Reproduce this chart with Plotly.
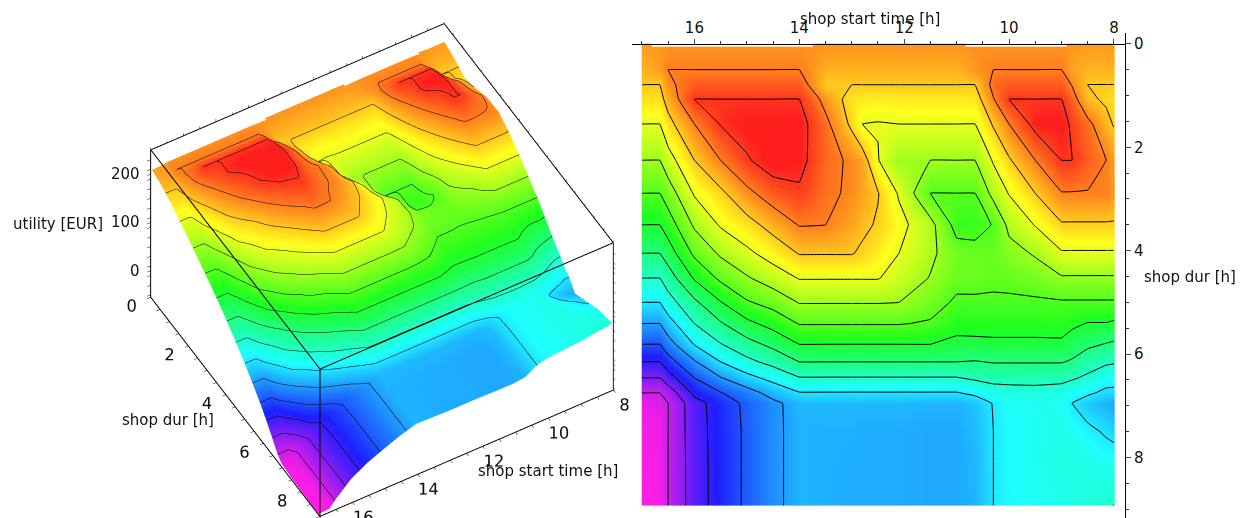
import plotly.graph_objects as go
import numpy as np

N = None
start_time_h = [17, 16.99, 16.66, 16.5, 16, 15.5, 15, 14.5, 14, 13.5, 13, 12.8, 12.5, 12.1, 11.5, 11, 10.65, 10.3, 10, 9.5, 9, 8.8, 8.5, 8.15, 8.01, 8]
shop_dur_h = [0, 0.01, 0.07, 0.5, 0.79, 1.07, 1.55, 2.25, 2.89, 3.5, 4.05, 4.53, 5, 5.41, 5.81, 6.15, 6.46, 6.75, 6.95, 7.5, 8.2, 8.92, 8.93]

u170 = [212,212,212,206,200,194,180,160,140,120,100,80,60,40,20,0,-20,-40,-48,-52,-53,-54,-54]
u1666 = [N,N,213,212,200,194,180,160,140,120,100,80,60,40,20,0,-20,-40,-46,-50,-51,-52,-52]
u165 = [N,N,215,220,216,207,194,172,150,130,110,90,72,52,32,12,-8,-32,-40,-40,-40,-40,-40]
u160 = [N,N,215,220,230,240,220,200,182,163,144,122,96,80,61,38,20,5,-8,-9,-10,-10,-10]
u155 = [N,N,215,220,230,240,241,220,196,182,163,144,119,98,79,60,39,19,10,9,9,9,9]
u150 = [N,N,215,220,230,240,248,238,215,193,176,158,138,115,93,75,54,32,24,23,23,23,23]
u145 = [N,N,215,220,230,240,248,250,230,207,188,170,147,127,105,86,66,47,36,36,36,36,36]
u140 = [N,N,215,220,230,240,247,246,237,221,201,181,161,141,120,100,79,59,47,46,46,46,46]
u135 = [214,214,214,207,200,214,225,226,224,220,201,181,161,141,120,100,79,59,47,45,45,45,45]
u130 = [214,214,214,206,200,192,196,217,217,210,201,181,161,141,120,100,79,59,47,45,44,44,44]
u128 = [214,214,214,206,200,191,180,210,210,204,197,181,161,141,120,100,79,59,47,44,44,44,44]
u125 = [214,214,214,206,200,190,179,181,201,198,190,181,161,141,120,100,79,59,47,44,44,44,44]
u121 = [214,214,214,206,200,191,180,160,178,186,180,172,160,141,120,100,79,59,47,44,44,44,44]
u115 = [214,214,214,206,200,191,180,160,139.9,166,164,159,148,138,120,100,79,59,46,43,43,43,43]
u110 = [214,214,214,206,200,191,180,160,139.9,133,148,146,137,127,115,100,79,59,46,43,43,43,43]
u1065 = [N,N,215,214,200,191,180,160,139.9,133,146,146,137,128,115,99,83,64,50,48,47,46,46]
u103 = [N,N,215,220,225,219,202,182,166,141,145,144,137,128,116,101,86,71,61,60,60,60,60]
u100 = [N,N,215,220,230,240,220,198,181,165,153,145,137,128,116,101,86,73,67,66,66,65,65]
u95 = [N,N,215,220,230,240,246,220,200,181,162,150,137,128,116,101,86,74,70,69,69,68,68]
u90 = [N,N,215,220,230,240,247,240,219,198,178,158,138,129,116,101,85,72,70,72,73,70,70]
u88 = [214,214,214,210,219,228,237,240,219,198,178,158,138,124,110,98,82,68,60,70,74,72,72]
u85 = [212,212,212,206,199.9,204,225,229,219,198,178,158,138,119,104,88,77,63,51,64,73,75,75]
u815 = [212,212,212,206,199.9,197,206,220,219,198,178,158,138,119,99,83,68,56,46,58,70,77,77]
u80 = [212,212,212,206,199.9,194,199,212,214,198,178,158,138,117,97,82,67,56,42,55,72,80,80]

columns = [u170,u170,u1666,u165,u160,u155,u150,u145,u140,u135,u130,u128,u125,u121,u115,u110,u1065,u103,u100,u95,u90,u88,u85,u815,u80,u80]
utility = np.array(columns, dtype=float).T

x_ticks = [8, 10, 12, 14, 16]
y_ticks = [0, 2, 4, 6, 8]
z_ticks = [0, 100, 200]
x_tick_all = [8 + 0.5*i for i in range(19)]
y_tick_all = [0.5*i for i in range(19)]
z_tick_all = [-50 + 20*i for i in range(15)]
x_range = [8, 17]
y_range = [0, 9]
z_range = [-55, 250]
# front box edges sit a hair inside the ranges, so the scene does not clip them
box_x = [8.01, 16.99]
box_y = [0.01, 8.99]
box_z = [-54.5, 249.5]

rainbow = [[0.0,"#ff1ee6"],[0.2,"#1e1eff"],[0.4,"#1effff"],[0.6,"#1eff1e"],[0.8,"#ffff1e"],[1.0,"#ff1e1e"]]
FONT = "DejaVu Sans"
FS = 15
zmin, zmax = -54, 246
W, H = 1237, 510  # page body margin of 8 px shifts everything

fig = go.Figure()
fig.add_trace(go.Surface(
    x=start_time_h, y=shop_dur_h, z=utility, colorscale=rainbow, cmin=zmin, cmax=zmax,
    showscale=False, hoverinfo="skip",
    lighting=dict(ambient=1, diffuse=0, specular=0, roughness=1, fresnel=0),
    contours=dict(z=dict(show=True, start=-40.01, end=240, size=20, color="black", width=3),
                  x=dict(show=False), y=dict(show=False)),
))
fig.add_trace(go.Scatter3d(
    x=[box_x[0], box_x[1], box_x[1], None, box_x[1], box_x[1]],
    y=[box_y[1], box_y[1], box_y[0], None, box_y[1], box_y[1]],
    z=[box_z[1], box_z[1], box_z[1], None, box_z[1], box_z[0]],
    mode="lines", line=dict(color="black", width=2), hoverinfo="skip", showlegend=False,
))
fig.add_trace(go.Heatmap(
    x=start_time_h, y=shop_dur_h, z=utility, colorscale=rainbow, zmin=zmin, zmax=zmax,
    zsmooth="best", showscale=False, xaxis="x", yaxis="y", hoverinfo="skip",
))
fig.add_trace(go.Contour(
    x=start_time_h, y=shop_dur_h, z=utility, showscale=False, xaxis="x", yaxis="y",
    contours=dict(coloring="none", start=-40.01, end=240, size=20),
    line=dict(color="black", width=1, smoothing=0.15), hoverinfo="skip",
))

def axis3d(vals, labels, rng):
    return dict(range=rng, tickmode="array", tickvals=vals, ticktext=labels, tickangle=0,
                showgrid=False, showbackground=False, zeroline=False, showspikes=False,
                showline=True, mirror="all", linecolor="black", linewidth=2,
                ticks="outside", ticklen=4, tickcolor="black",
                tickfont=dict(family=FONT, size=14, color="#111"), title=dict(text=""))

def lab(vals, major):
    return [str(int(v)) if v in major else "" for v in vals]

fig.update_layout(
    width=W, height=H, autosize=False, paper_bgcolor="white", plot_bgcolor="white",
    margin=dict(l=0, r=0, t=0, b=0), showlegend=False,
    xaxis=dict(domain=[(632-8)/W, (1125-8)/W], range=[17.19, 7.79], side="top",
               anchor="free", position=(518-44)/H, tickvals=x_ticks, ticks="outside",
               ticklen=5, showgrid=False, zeroline=False, showline=True, linecolor="black",
               linewidth=1, tickfont=dict(family=FONT, size=FS, color="#111"),
               minor=dict(dtick=0.5, ticks="outside", ticklen=3, tickcolor="#333")),
    yaxis=dict(domain=[0, (518-33)/H], range=[9.17, -0.21], side="right", anchor="x",
               tickvals=y_ticks, ticks="outside", ticklen=5, showgrid=False, zeroline=False,
               showline=True, linecolor="black", linewidth=1,
               tickfont=dict(family=FONT, size=FS, color="#111"),
               minor=dict(dtick=0.5, ticks="outside", ticklen=3, tickcolor="#333")),
    scene=dict(
        domain=dict(x=[94/W, 654/W], y=[0, 496/H]),
        aspectmode="manual", aspectratio=dict(x=1.366, y=1.366, z=0.893),
        camera=dict(projection=dict(type="orthographic"),
                    eye=dict(x=0.332*5, y=0.576*5, z=0.747*5),
                    up=dict(x=0, y=0, z=1), center=dict(x=0, y=0, z=0)),
        xaxis=axis3d(x_tick_all, lab(x_tick_all, x_ticks), x_range),
        yaxis=axis3d(y_tick_all, lab(y_tick_all, y_ticks), y_range),
        zaxis=axis3d(z_tick_all + z_ticks, [""]*(len(z_tick_all)+len(z_ticks)), z_range),
        annotations=[dict(x=x_range[1], y=y_range[0], z=v, text=str(v), showarrow=False,
                          xanchor="right", yanchor="middle", xshift=-9, yshift=0,
                          font=dict(family=FONT, size=FS, color="#111")) for v in z_ticks],
    ),
)

def note(text, px, py):
    fig.add_annotation(text=text, x=(px-8)/W, y=(518-py)/H, xref="paper", yref="paper",
                       showarrow=False, xanchor="center", yanchor="middle",
                       font=dict(family=FONT, size=FS, color="#111"))

note("shop start time [h]", 870, 19)
note("shop dur [h]", 1190, 277)
note("utility [EUR]", 58, 224)
note("shop dur [h]", 168, 420)
note("shop start time [h]", 548, 471)

fig.write_html("out.html")
